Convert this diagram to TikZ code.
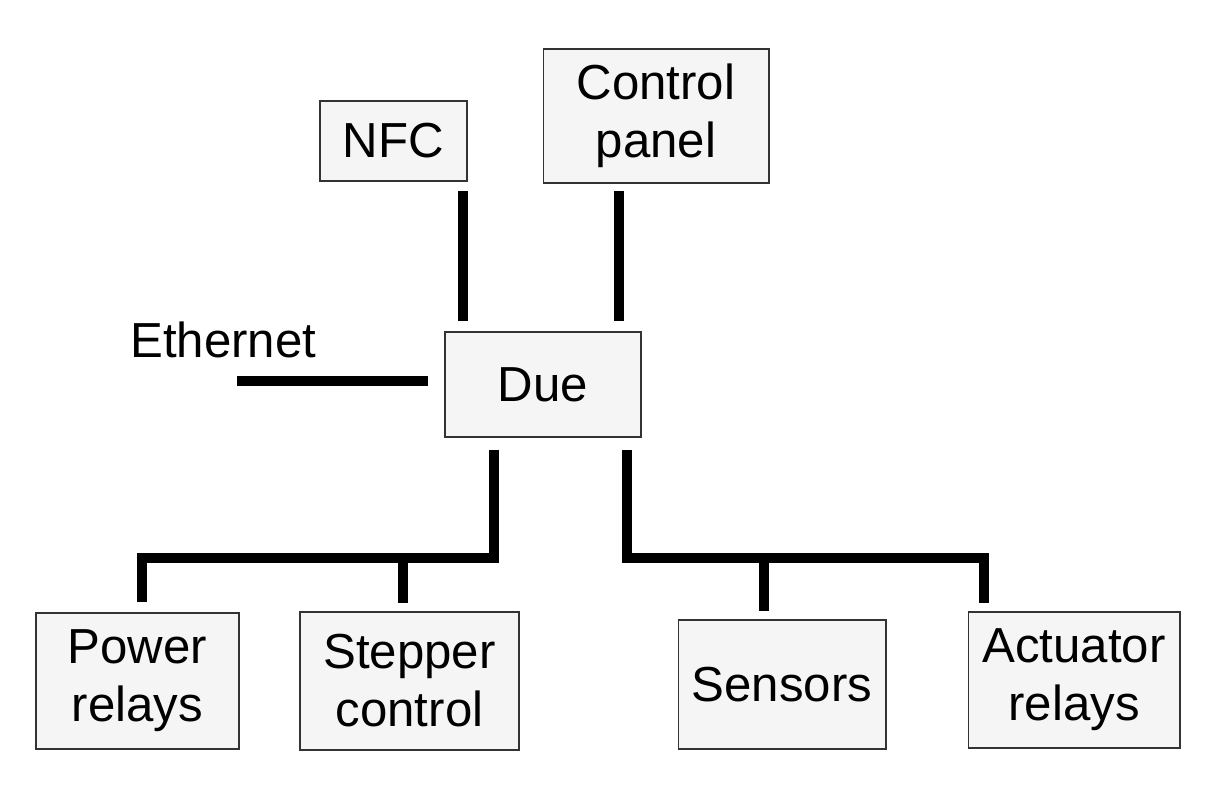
\documentclass[tikz,border=0pt]{standalone}
\usepackage{fontspec}
\setmainfont{Liberation Sans}
\definecolor{boxfill}{HTML}{F5F5F5}
\tikzset{
  block/.style={draw=black!80,line width=0.6pt,fill=boxfill,inner sep=0pt,
    align=center,font=\fontsize{28}{33}\selectfont},
  wire/.style={line width=0.2cm,line join=miter,line cap=butt}
}
\begin{document}
\begin{tikzpicture}[x=0.02cm,y=-0.02cm]
\useasboundingbox (0,0) rectangle (1221,798);
\node[block,minimum width=2.94cm,minimum height=1.6cm] (nfc) at (393.5,141) {NFC};
\node[block,minimum width=4.52cm,minimum height=2.68cm] (ctrl) at (656,116) {Control\\panel};
\node[block,minimum width=3.92cm,minimum height=2.1cm] (due) at (543,384.5) {Due};
\node[block,minimum width=4.06cm,minimum height=2.72cm] (power) at (137.5,681) {Power\\relays};
\node[block,minimum width=4.38cm,minimum height=2.76cm] (stepper) at (409.5,681) {Stepper\\control};
\node[block,minimum width=4.16cm,minimum height=2.58cm] (sensors) at (782,684.5) {Sensors};
\node[block,minimum width=4.24cm,minimum height=2.72cm] (act) at (1074,680) {Actuator\\relays};
\node[anchor=base west,inner sep=0pt,font=\fontsize{28}{33}\selectfont] (eth) at (130,357) {Ethernet};

\coordinate (ethend) at (237,381);
\coordinate (nfcx) at (463,0);
\coordinate (ctrlx) at (619,0);
\coordinate (busL) at (494,558);
\coordinate (busR) at (627,558);
\coordinate (powx) at (142,0);
\coordinate (stepx) at (403,0);
\coordinate (sensx) at (764,0);
\coordinate (actx) at (984,0);

\draw[wire,shorten >=0.34cm] (ethend) -- (due.west |- ethend);
\draw[wire,shorten <=0.18cm,shorten >=0.2cm] (nfc.south -| nfcx) -- (due.north -| nfcx);
\draw[wire,shorten <=0.14cm,shorten >=0.2cm] (ctrl.south -| ctrlx) -- (due.north -| ctrlx);
\draw[wire,shorten <=0.24cm,shorten >=0.2cm] (due.south -| busL) -- (busL) -| (power.north -| powx);
\draw[wire,shorten >=0.16cm] (busL -| stepx) -- (stepper.north -| stepx);
\draw[wire,shorten <=0.24cm,shorten >=0.16cm] (due.south -| busR) -- (busR) -| (act.north -| actx);
\draw[wire,shorten >=0.16cm] (busR -| sensx) -- (sensors.north -| sensx);
\end{tikzpicture}
\end{document}
